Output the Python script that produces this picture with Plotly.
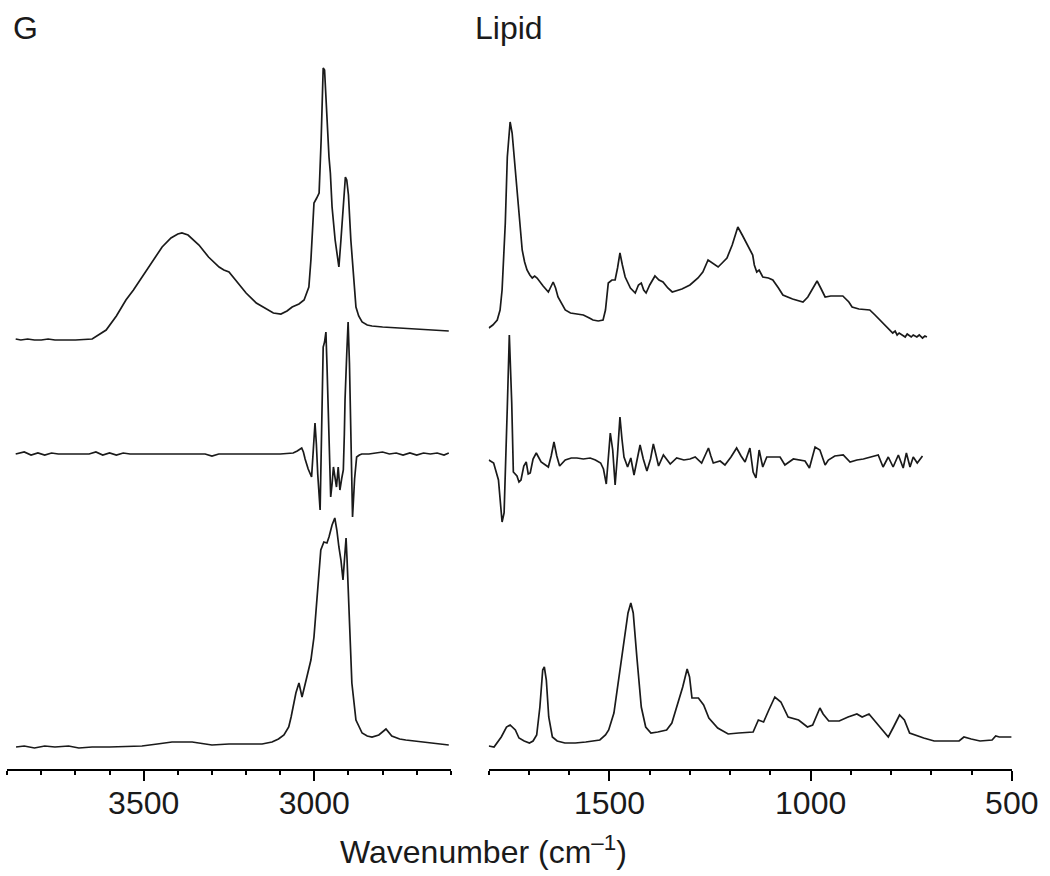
import plotly.graph_objects as go

# ---------------- data ----------------
# Left panel: high-wavenumber region (cm-1) ; intensities in arbitrary units
g_top_wn = [3875, 3860, 3840, 3820, 3800, 3780, 3760, 3700, 3651, 3610, 3580, 3552, 3530, 3505, 3475,
            3446, 3420, 3400, 3388, 3370, 3338, 3310, 3279, 3265, 3250, 3225, 3200, 3170, 3142, 3120,
            3098, 3080, 3065, 3045, 3030, 3016, 3010, 3005, 3001, 2993, 2986, 2980, 2977, 2974, 2970,
            2966, 2962, 2957, 2953, 2948, 2939, 2932, 2928, 2922, 2915, 2909, 2905, 2900, 2893, 2884,
            2878, 2870, 2860, 2845, 2831, 2800, 2752, 2700, 2650, 2606]
g_top_int = [1, 0, 1, 0, 0, 1, 0, 0, 1, 10, 24, 40, 50, 63, 79,
             93, 102, 106, 107, 105, 95, 83, 73, 70, 68, 58, 47, 37, 31, 27,
             26, 29, 33, 36, 40, 53, 80, 120, 137, 142, 147, 200, 240, 272, 270,
             240, 205, 183, 167, 133, 100, 80, 73, 100, 140, 163, 160, 145, 100, 53,
             33, 24, 18, 15, 14, 13, 12, 11, 10, 9]

g_mid_wn = [3875, 3850, 3830, 3810, 3790, 3770, 3750, 3700, 3660, 3640, 3620, 3600, 3580, 3560, 3540,
            3450, 3320, 3300, 3280, 3200, 3100, 3062, 3050, 3037, 3032, 3027, 3018, 3008, 3002, 2998,
            2994, 2990, 2983, 2978, 2974, 2970, 2966, 2963, 2959, 2955, 2952, 2948, 2944, 2940, 2935,
            2930, 2925, 2920, 2915, 2912, 2910, 2905, 2901, 2897, 2894, 2891, 2888, 2882, 2876, 2868,
            2861, 2840, 2800, 2780, 2760, 2740, 2720, 2700, 2680, 2660, 2640, 2620, 2606]
g_mid_int = [0, 2, -1, 1, -1, 1, 0, 0, 0, 2, -1, 1, -1, 1, 0,
             0, 0, -2, 0, 0, 0, 1, 3, 6, 2, -5, -15, -23, 10, 31,
             10, -20, -56, 20, 107, 112, 122, 90, 44, -10, -43, -30, -13, -22, -33,
             -13, -36, -25, -16, 20, 54, 100, 132, 90, 37, -20, -63, -25, -3, -1,
             0, 0, 2, 0, 1, -1, 1, -1, 1, 0, 1, -1, 1]

g_bot_wn = [3874, 3850, 3820, 3790, 3760, 3720, 3690, 3651, 3600, 3505, 3460, 3417, 3358, 3300, 3250,
            3153, 3124, 3105, 3089, 3075, 3068, 3060, 3054, 3045, 3036, 3024, 3010, 3001, 2992, 2985,
            2981, 2972, 2963, 2957, 2948, 2940, 2934, 2928, 2922, 2916, 2911, 2907, 2904, 2899, 2890,
            2878, 2860, 2845, 2831, 2811, 2790, 2773, 2750, 2732, 2680, 2606]
g_bot_int = [0, 1, -1, 1, 0, 1, -1, 0, 0, 1, 3, 5, 5, 2, 3,
             3, 5, 8, 12, 20, 30, 45, 54, 64, 50, 67, 87, 110, 147, 180,
             197, 205, 204, 210, 222, 229, 217, 200, 187, 167, 195, 209, 187, 137, 64,
             27, 14, 11, 10, 12, 18, 11, 8, 7, 5, 2]

# Right panel: fingerprint region (cm-1)
l_top_wn = [1800, 1790, 1779, 1772, 1767, 1762, 1759, 1754, 1750, 1747, 1742, 1736, 1729, 1722, 1717,
            1711, 1705, 1698, 1692, 1686, 1680, 1665, 1652, 1640, 1634, 1628, 1618, 1610, 1597, 1580,
            1565, 1550, 1541, 1528, 1516, 1510, 1503, 1494, 1486, 1480, 1474, 1468, 1461, 1448, 1436,
            1428, 1421, 1415, 1409, 1400, 1387, 1377, 1367, 1355, 1344, 1320, 1300, 1280, 1268, 1255,
            1242, 1230, 1220, 1208, 1195, 1181, 1170, 1159, 1150, 1144, 1140, 1134, 1128, 1119, 1105,
            1094, 1080, 1069, 1045, 1019, 1007, 995, 984, 975, 964, 950, 935, 920, 905, 897,
            880, 853, 840, 820, 810, 800, 796, 790, 785, 780, 771, 765, 760, 750, 745,
            736, 730, 722, 716, 711]
l_top_int = [12, 15, 20, 30, 50, 85, 117, 183, 210, 218, 207, 180, 150, 115, 90,
             78, 70, 65, 62, 64, 62, 54, 48, 58, 52, 43, 35, 30, 27, 26,
             25, 22, 20, 19, 20, 30, 57, 60, 60, 72, 87, 75, 63, 52, 47,
             55, 57, 50, 47, 55, 64, 60, 58, 52, 48, 51, 55, 62, 68, 80,
             76, 73, 77, 82, 95, 113, 105, 97, 90, 85, 75, 68, 70, 63, 62,
             60, 52, 45, 41, 38, 43, 52, 59, 52, 43, 44, 44, 44, 38, 33,
             31, 30, 25, 17, 12, 8, 7, 9, 5, 7, 5, 3, 6, 3, 5,
             3, 5, 2, 4, 3]

l_mid_wn = [1800, 1788, 1776, 1767, 1762, 1759, 1754, 1749, 1743, 1739, 1730, 1725, 1720, 1713, 1707,
            1702, 1697, 1690, 1682, 1670, 1652, 1645, 1638, 1631, 1624, 1610, 1595, 1581, 1565, 1548,
            1535, 1522, 1515, 1508, 1498, 1492, 1486, 1480, 1474, 1469, 1464, 1455, 1447, 1439, 1432,
            1424, 1416, 1407, 1398, 1391, 1385, 1378, 1366, 1349, 1333, 1315, 1300, 1287, 1271, 1262,
            1254, 1248, 1242, 1225, 1213, 1198, 1184, 1173, 1163, 1151, 1143, 1136, 1128, 1119, 1109,
            1090, 1076, 1064, 1043, 1014, 1003, 989, 977, 964, 956, 940, 919, 902, 885, 869,
            850, 832, 820, 807, 795, 782, 770, 762, 753, 745, 735, 722]
l_mid_int = [-6, -9, -26, -68, -59, -9, 47, 119, 51, -18, -22, -28, -26, -12, -8,
             -20, -19, -5, 1, -8, -13, -2, 12, -2, -12, -6, -4, -4, -5, -4,
             -6, -9, -15, -30, 21, 4, -31, 0, 37, 15, -3, -13, -4, -21, -5,
             9, -5, -17, -5, 10, 0, -12, -1, -10, -4, -6, -5, -3, -9, 0,
             6, -2, -9, -7, -11, -3, 6, -2, -8, 6, -18, -24, 4, -13, -3,
             -3, -3, -11, -5, -7, -14, 7, 4, -11, -6, -2, -1, -8, -6, -5,
             -3, -1, -13, -3, -13, -1, -14, 1, -13, -3, -9, -2]

l_bot_wn = [1800, 1787, 1769, 1756, 1747, 1734, 1725, 1712, 1699, 1690, 1681, 1673, 1666, 1662, 1657,
            1651, 1642, 1630, 1611, 1585, 1559, 1540, 1524, 1510, 1502, 1489, 1476, 1463, 1454, 1447,
            1441, 1432, 1421, 1410, 1397, 1380, 1358, 1345, 1332, 1318, 1307, 1301, 1295, 1279, 1266,
            1253, 1231, 1205, 1179, 1143, 1130, 1117, 1104, 1089, 1074, 1056, 1030, 1008, 995, 977,
            969, 955, 929, 907, 885, 872, 855, 837, 807, 794, 779, 767, 754, 719, 693,
            631, 619, 601, 579, 549, 540, 531, 501]
l_bot_int = [1, 0, 10, 20, 22, 17, 9, 6, 4, 6, 12, 40, 77, 80, 67,
             30, 10, 6, 4, 4, 5, 6, 7, 12, 17, 34, 70, 110, 134, 144,
             134, 90, 40, 20, 14, 15, 17, 24, 42, 60, 78, 70, 49, 49, 42,
             29, 19, 13, 14, 15, 27, 25, 37, 50, 45, 30, 27, 20, 22, 39,
             33, 26, 26, 30, 33, 30, 33, 24, 10, 20, 32, 27, 14, 9, 6,
             6, 10, 8, 6, 7, 11, 10, 10]

# vertical stacking offsets of the three spectra (top, middle, bottom)
stack_offsets = [429, 315, 22]

left_ticks = [3500, 3000]
right_ticks = [1500, 1000, 500]
panel_labels = ["G", "Lipid"]
x_title = "Wavenumber (cm<sup>–1</sup>)"

# ---------------- figure ----------------
LINE = dict(color="#1a1a1a", width=1.7)
FONT = "Liberation Sans, Arial, Helvetica, sans-serif"

fig = go.Figure()
left_sets = [(g_top_wn, g_top_int), (g_mid_wn, g_mid_int), (g_bot_wn, g_bot_int)]
right_sets = [(l_top_wn, l_top_int), (l_mid_wn, l_mid_int), (l_bot_wn, l_bot_int)]
for (wn, it), off in zip(left_sets, stack_offsets):
    fig.add_trace(go.Scatter(x=wn, y=[v + off for v in it], mode="lines", line=LINE,
                             xaxis="x", yaxis="y", showlegend=False, hoverinfo="skip"))
for (wn, it), off in zip(right_sets, stack_offsets):
    fig.add_trace(go.Scatter(x=wn, y=[v + off for v in it], mode="lines", line=LINE,
                             xaxis="x2", yaxis="y", showlegend=False, hoverinfo="skip"))

W, H = 1050, 876
ml, mr, mt, mb = 7, 38, 10, 107
pw, ph = W - ml - mr, H - mt - mb


def px_x(p):
    return (p - ml) / pw


def px_y(p):
    return (H - mb - p) / ph


axis_common = dict(
    showline=True, linecolor="black", linewidth=1.5,
    ticks="outside", ticklen=10, tickwidth=1.5, tickcolor="black",
    showgrid=False, zeroline=False, tickmode="array",
    tickfont=dict(family=FONT, size=32, color="#1a1a1a"),
    ticklabelstandoff=-5,
    anchor="y",
)
fig.update_layout(
    width=W, height=H,
    margin=dict(l=ml, r=mr, t=mt, b=mb),
    paper_bgcolor="white", plot_bgcolor="white",
    font=dict(family=FONT, color="#1a1a1a"),
    xaxis=dict(domain=[0, px_x(451)], range=[3900.5, 2599.5], tickvals=left_ticks,
               minor=dict(tickmode="array", tickvals=list(range(2600, 3901, 100)),
                          ticks="outside", ticklen=4, tickwidth=1.5, tickcolor="black"),
               **axis_common),
    xaxis2=dict(domain=[px_x(488.6), 1], range=[1800.5, 499.5], tickvals=right_ticks,
                minor=dict(tickmode="array", tickvals=list(range(500, 1801, 100)),
                           ticks="outside", ticklen=4, tickwidth=1.5, tickcolor="black"),
                **axis_common),
    yaxis=dict(range=[0, ph], visible=False, domain=[0, 1]),
    annotations=[
        dict(text=panel_labels[0], xref="paper", yref="paper", x=px_x(11), y=px_y(28),
             xanchor="left", yanchor="middle", showarrow=False,
             font=dict(family=FONT, size=32, color="#1a1a1a")),
        dict(text=panel_labels[1], xref="paper", yref="paper", x=px_x(473), y=px_y(28),
             xanchor="left", yanchor="middle", showarrow=False,
             font=dict(family=FONT, size=32, color="#1a1a1a")),
        dict(text=x_title, xref="paper", yref="paper", x=px_x(483), y=px_y(850),
             xanchor="center", yanchor="middle", showarrow=False,
             font=dict(family=FONT, size=32, color="#1a1a1a")),
    ],
)

fig.write_html("out.html", config={"displayModeBar": False},
               post_script="document.body.style.margin='0';document.body.style.overflow='hidden';")
